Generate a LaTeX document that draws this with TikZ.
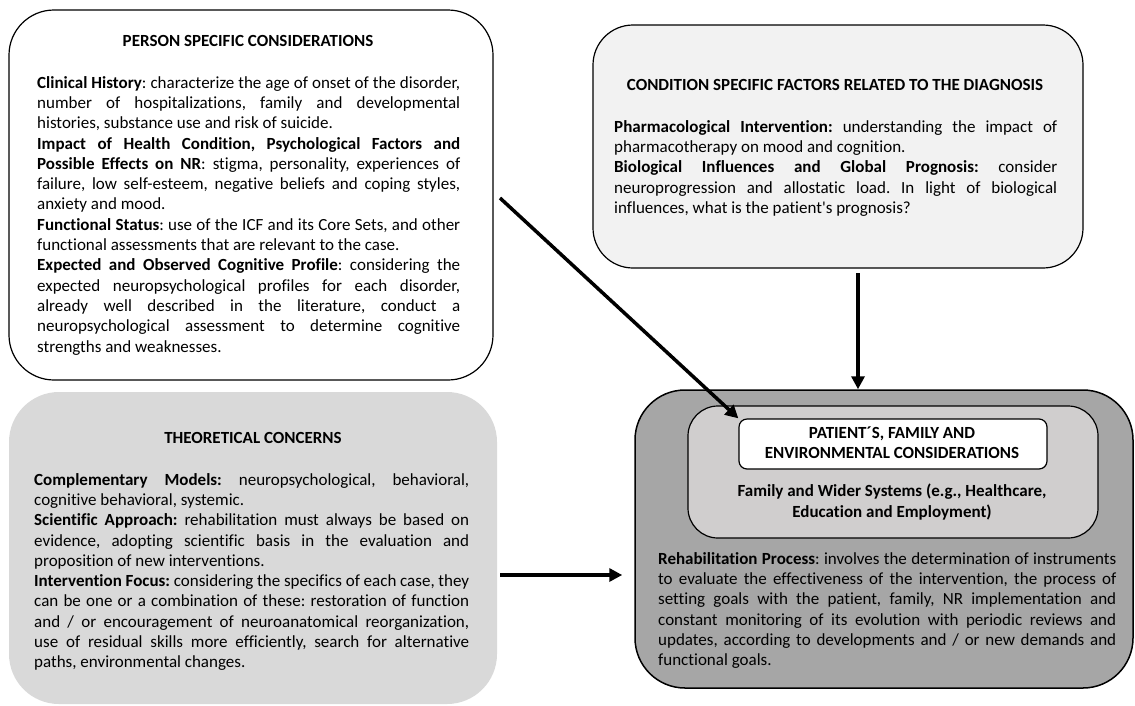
\documentclass[tikz,border=0pt]{standalone}
\usepackage{fontspec}
\setmainfont{Carlito}[Ligatures=NoCommon]
\usepackage{tikz}
\usetikzlibrary{arrows.meta, positioning, calc}
\definecolor{condFill}{HTML}{F2F2F2}
\definecolor{theoFill}{HTML}{D9D9D9}
\definecolor{outerFill}{HTML}{A6A6A6}
\definecolor{midFill}{HTML}{D0CECE}
\frenchspacing

\begin{document}
\begin{tikzpicture}[x=1pt, y=-1pt,
    panel/.style={rectangle, draw=black, line width=1.2pt, inner sep=0pt},
    title/.style={font=\fontsize{17}{20.3}\selectfont\bfseries, inner sep=0pt, align=center},
    body/.style={font=\fontsize{17}{20.3}\selectfont, inner sep=0pt, align=justify, anchor=north west},
    arr/.style={-{Triangle[length=13pt, width=13pt]}, line width=3.5pt, black}
  ]
  \useasboundingbox (0,0) rectangle (1135,705);

  % === Person specific ===
  \node[panel, fill=white, rounded corners=45pt, minimum width=484pt, minimum height=370pt] (person) at (251,195) {};
  \node[title] (persontitle) at (248,41) {PERSON SPECIFIC CONSIDERATIONS};
  \node[body, text width=423pt] (personbody) at (37,76) {%
    \textbf{Clinical History}: characterize the age of onset of the disorder,\linebreak
    number of hospitalizations, family and developmental\linebreak
    histories, substance use and risk of suicide.\\
    \textbf{Impact of Health Condition, Psychological Factors and\linebreak
    Possible Effects on NR}: stigma, personality, experiences of\linebreak
    failure, low self-esteem, negative beliefs and coping styles,\linebreak
    anxiety and mood.\\
    \textbf{Functional Status}: use of the ICF and its Core Sets, and other\linebreak
    functional assessments that are relevant to the case.\\
    \textbf{Expected and Observed Cognitive Profile}: considering the\linebreak
    expected neuropsychological profiles for each disorder,\linebreak
    already well described in the literature, conduct a\linebreak
    neuropsychological assessment to determine cognitive\linebreak
    strengths and weaknesses.};

  % === Condition specific ===
  \node[panel, fill=condFill, rounded corners=40pt, minimum width=490pt, minimum height=243pt] (cond) at (838,146.5) {};
  \node[title] (condtitle) at (835,85) {CONDITION SPECIFIC FACTORS RELATED TO THE DIAGNOSIS};
  \node[body, text width=443pt] (condbody) at (614,120) {%
    \textbf{Pharmacological Intervention:} understanding the impact of\linebreak
    pharmacotherapy on mood and cognition.\\
    \textbf{Biological Influences and Global Prognosis:} consider\linebreak
    neuroprogression and allostatic load. In light of biological\linebreak
    influences, what is the patient\textquotesingle s prognosis?};

  % === Theoretical ===
  \node[rectangle, fill=theoFill, rounded corners=50pt, minimum width=488pt, minimum height=312pt] (theo) at (253,548) {};
  \node[title] (theotitle) at (253,438) {THEORETICAL CONCERNS};
  \node[body, text width=435pt] (theobody) at (34,473) {%
    \textbf{Complementary Models:} neuropsychological, behavioral,\linebreak
    cognitive behavioral, systemic.\\
    \textbf{Scientific Approach:} rehabilitation must always be based on\linebreak
    evidence, adopting scientific basis in the evaluation and\linebreak
    proposition of new interventions.\\
    \textbf{Intervention Focus:} considering the specifics of each case, they\linebreak
    can be one or a combination of these: restoration of function\linebreak
    and / or encouragement of neuroanatomical reorganization,\linebreak
    use of residual skills more efficiently, search for alternative\linebreak
    paths, environmental changes.};

  % === Patient, family and environment ===
  \node[panel, fill=outerFill, line width=1.5pt, rounded corners=50pt, minimum width=498pt, minimum height=298pt] (outer) at (884,539) {};
  \node[panel, fill=midFill, rounded corners=30pt, minimum width=410pt, minimum height=132pt] (mid) at (893,472) {};
  \node[panel, fill=white, rounded corners=8pt, minimum width=308pt, minimum height=50pt] (inner) at (893,444) {};
  \node[title] (innertitle) at (892,443) {PATIENT´S, FAMILY AND\\ENVIRONMENTAL CONSIDERATIONS};
  \node[title] (midtext) at (892,502) {Family and Wider Systems (e.g., Healthcare,\\Education and Employment)};
  \node[body, text width=458pt] (rehabbody) at (658,552) {%
    \textbf{Rehabilitation Process}: involves the determination of instruments\linebreak
    to evaluate the effectiveness of the intervention, the process of\linebreak
    setting goals with the patient, family, NR implementation and\linebreak
    constant monitoring of its evolution with periodic reviews and\linebreak
    updates, according to developments and / or new demands and\linebreak
    functional goals.};

  % === Connectors ===
  \coordinate (p1) at (500,198);
  \coordinate (c2) at (858,273);
  \coordinate (t3) at (500,575);
  \draw[arr] (p1) -- (inner.north west);
  \draw[arr] (c2) -- (c2 |- outer.north);
  \draw[arr, shorten >=12pt] (t3) -- (t3 -| outer.west);
\end{tikzpicture}
\end{document}
